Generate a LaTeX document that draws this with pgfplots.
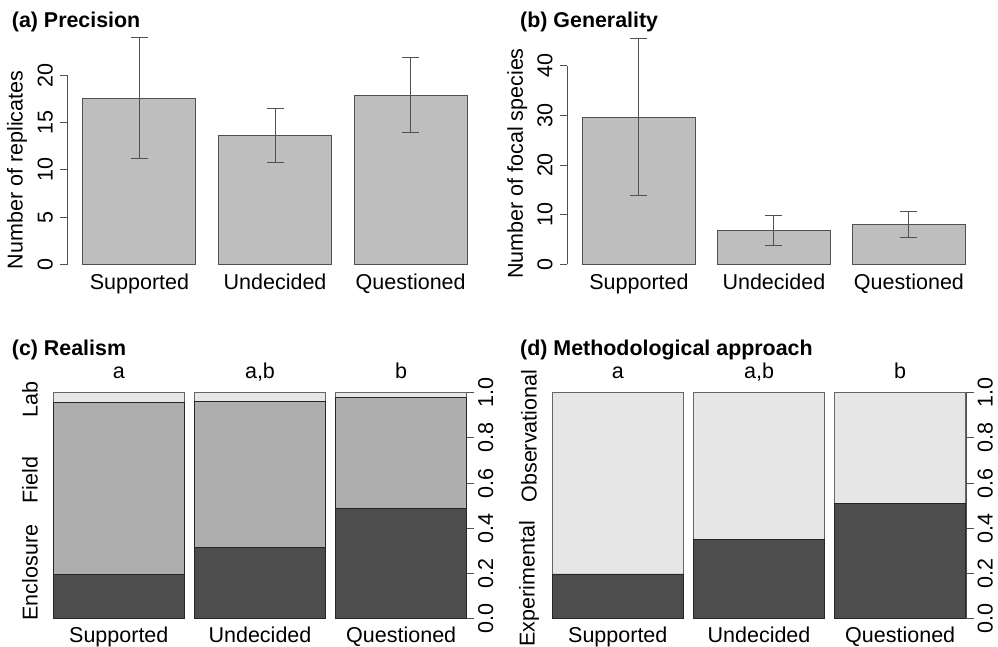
\documentclass[border=0pt]{standalone}
\usepackage{fontspec}
\setmainfont{Liberation Sans}
\usepackage{pgfplots}
\pgfplotsset{compat=1.18}
\definecolor{barfill}{HTML}{BEBEBE}
\definecolor{lin}{HTML}{505050}
\definecolor{encl}{HTML}{4D4D4D}
\definecolor{fld}{HTML}{AEAEAE}
\definecolor{labc}{HTML}{E6E6E6}
\newcommand{\F}{\fontsize{21.5bp}{25bp}\selectfont}
\newcommand{\FB}{\fontsize{21.4bp}{25bp}\selectfont\bfseries}
\pgfplotsset{
  rbase/.style={
    scale only axis, clip=false,
    /pgf/number format/assume math mode=true,
    tick label style={font=\F},
    label style={font=\F},
    axis line style={draw=none},
    tick align=outside, major tick length=7.5bp,
    tick style={draw=lin, line width=0.9bp},
    xtick style={draw=none},
    xtick pos=bottom,
  },
  topbar/.style={
    rbase, anchor=south west, height=214.5bp,
    ybar, bar width=1,
    xmin=0.064, xmax=3.736,
    xtick={0.7,1.9,3.1}, xticklabels={Supported,Undecided,Questioned},
    xticklabel style={anchor=base, yshift=-10bp},
    ytick pos=left,
    yticklabel style={rotate=90, anchor=base, yshift=7.5bp},
  },
  spine/.style={
    rbase, anchor=south west, height=226bp,
    ybar stacked, bar width=131,
    xmin=0, ymin=0, ymax=1,
    xtick={65.5,206.7,347.9}, xticklabels={Supported,Undecided,Questioned},
    xticklabel style={anchor=base, yshift=-16bp},
    ytick={0,0.2,...,1.0}, ytick pos=right, yticklabel pos=right,
    yticklabel style={rotate=90, anchor=base, yshift=-19bp, /pgf/number format/.cd, fixed, fixed zerofill, precision=1},
  },
  ebars/.style={
    fill=barfill, draw=lin, line width=1bp,
    error bars/.cd, y dir=both, y explicit,
    error bar style={draw=lin, line width=1bp},
    error mark options={rotate=90, draw=lin, mark size=8.5bp, line width=1bp},
  },
}
\begin{document}
\begin{tikzpicture}[x=1bp,y=1bp]
\path[use as bounding box] (0,0) rectangle (998,647);
% titles
\node[font=\FB, anchor=base west, inner sep=0] at (11.7,619) {(a) Precision};
\node[font=\FB, anchor=base west, inner sep=0] at (520,619) {(b) Generality};
\node[font=\FB, anchor=base west, inner sep=0] at (11.7,291) {(c) Realism};
\node[font=\FB, anchor=base west, inner sep=0] at (520,291) {(d) Methodological approach};

% (a)
\begin{axis}[topbar, at={(67.6bp,374.7bp)}, width=414.9bp,
  ymin=-0.84, ymax=21.84, ytick={0,5,10,15,20},
  ylabel={Number of replicates},
  ylabel style={at={(axis description cs:-0.122,0.477)}, anchor=center}]
\addplot[ebars] table[x=x, y=y, y error=e] {
x y e
0.7 17.57 6.40
1.9 13.65 2.87
3.1 17.90 3.95
};
\draw[lin, line width=0.9bp] (axis cs:0.064,0) -- (axis cs:0.064,20);
\end{axis}

% (b)
\begin{axis}[topbar, at={(567.4bp,374.7bp)}, width=413.1bp,
  ymin=-1.6, ymax=41.6, ytick={0,10,20,30,40},
  ylabel={Number of focal species},
  ylabel style={at={(axis description cs:-0.121,0.507)}, anchor=center}]
\addplot[ebars] table[x=x, y=y, y error=e] {
x y e
0.7 29.65 15.78
1.9 6.80 3.10
3.1 7.97 2.63
};
\draw[lin, line width=0.9bp] (axis cs:0.064,0) -- (axis cs:0.064,40);
\end{axis}

% (c)
\begin{axis}[spine, at={(53.3bp,28.3bp)}, width=413.4bp, xmax=413.4]
\addplot[fill=encl, draw=black!85, line width=0.8bp] coordinates {(65.5,0.197) (206.7,0.316) (347.9,0.488)};
\addplot[fill=fld, draw=black!85, line width=0.8bp] coordinates {(65.5,0.758) (206.7,0.646) (347.9,0.489)};
\addplot[fill=labc, draw=black!60, line width=0.8bp] coordinates {(65.5,0.045) (206.7,0.038) (347.9,0.023)};
\draw[lin, line width=0.9bp] (axis cs:413.4,0) -- (axis cs:413.4,1);
\node[font=\F, anchor=base] at (axis cs:65.5,1.061) {a};
\node[font=\F, anchor=base] at (axis cs:206.7,1.061) {a,b};
\node[font=\F, anchor=base] at (axis cs:347.9,1.061) {b};
\node[font=\F, rotate=90] at (axis cs:-23.3,0.204) {Enclosure};
\node[font=\F, rotate=90] at (axis cs:-23.3,0.614) {Field};
\node[font=\F, rotate=90] at (axis cs:-23.3,0.968) {Lab};
\end{axis}

% (d)
\begin{axis}[spine, at={(552.3bp,28.3bp)}, width=413.7bp, xmax=413.7]
\addplot[fill=encl, draw=black!85, line width=0.8bp] coordinates {(65.5,0.198) (206.7,0.352) (347.9,0.511)};
\addplot[fill=labc, draw=black!60, line width=0.8bp] coordinates {(65.5,0.802) (206.7,0.648) (347.9,0.489)};
\draw[lin, line width=0.9bp] (axis cs:413.7,0) -- (axis cs:413.7,1);
\node[font=\F, anchor=base] at (axis cs:65.5,1.061) {a};
\node[font=\F, anchor=base] at (axis cs:206.7,1.061) {a,b};
\node[font=\F, anchor=base] at (axis cs:347.9,1.061) {b};
\node[font=\F, rotate=90] at (axis cs:-23.3,0.154) {Experimental};
\node[font=\F, rotate=90] at (axis cs:-23.3,0.808) {Observational};
\end{axis}
\end{tikzpicture}
\end{document}
